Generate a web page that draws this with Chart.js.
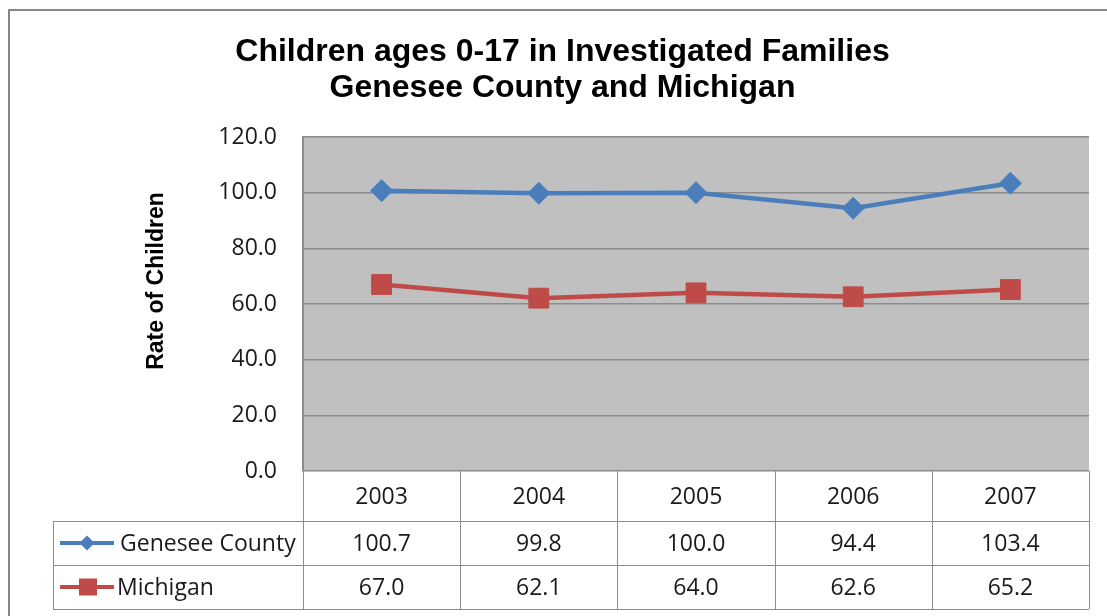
<!DOCTYPE html>
<html>
<head>
<meta charset="utf-8">
<title>Children ages 0-17 in Investigated Families</title>
<script src="https://cdn.jsdelivr.net/npm/chart.js"></script>
<style>
  html, body { margin: 0; padding: 0; background: #ffffff; }
  #wrap { position: relative; width: 1107px; height: 616px; }
</style>
</head>
<body>
<div id="wrap"><canvas id="chart"></canvas></div>
<script>
// data
const years = ['2003', '2004', '2005', '2006', '2007'];
const genesee = [100.7, 99.8, 100.0, 94.4, 103.4];
const michigan = [67.0, 62.1, 64.0, 62.6, 65.2];
const yTicks = [0, 20, 40, 60, 80, 100, 120];

const blue = '#4A7EBB';
const red = '#BE4B48';
const gridColor = '#8C8C8C';
const textFont = "'Open Sans', 'Noto Sans', sans-serif";

// outer frame + y title + data table under the plot
const tablePlugin = {
  id: 'dataTable',
  beforeDraw(chart) {
    const ctx = chart.ctx;
    ctx.save();
    ctx.strokeStyle = '#868686';
    ctx.lineWidth = 2;
    ctx.strokeRect(9, 10, 1120, 640);
    ctx.restore();
  },
  afterDraw(chart) {
    const ctx = chart.ctx;
    const area = chart.chartArea;
    const x = chart.scales.x;
    const colW = (area.right - area.left) / years.length;
    const rowTop = [area.bottom, 521, 565, 609];
    const legendLeft = 53;

    ctx.save();
    // y axis title
    ctx.translate(157, 281);
    ctx.rotate(-Math.PI / 2);
    ctx.font = "bold 23px 'Liberation Sans', Arial, sans-serif";
    ctx.fillStyle = '#000';
    ctx.textAlign = 'center';
    ctx.textBaseline = 'middle';
    ctx.fillText('Rate of Children', 0, 0);
    ctx.restore();

    ctx.save();
    ctx.strokeStyle = gridColor;
    ctx.lineWidth = 1;
    ctx.beginPath();
    // horizontal lines
    ctx.moveTo(area.left, rowTop[1] + 0.5); ctx.lineTo(area.right, rowTop[1] + 0.5);
    ctx.moveTo(legendLeft, rowTop[1] + 0.5); ctx.lineTo(area.left, rowTop[1] + 0.5);
    ctx.moveTo(legendLeft, rowTop[2] + 0.5); ctx.lineTo(area.right, rowTop[2] + 0.5);
    ctx.moveTo(legendLeft, rowTop[3] + 0.5); ctx.lineTo(area.right, rowTop[3] + 0.5);
    // vertical lines
    for (let i = 0; i <= years.length; i++) {
      const vx = Math.round(area.left + i * colW) + 0.5;
      ctx.moveTo(vx, rowTop[0]); ctx.lineTo(vx, rowTop[3]);
    }
    ctx.moveTo(legendLeft + 0.5, rowTop[1]); ctx.lineTo(legendLeft + 0.5, rowTop[3]);
    ctx.stroke();

    ctx.fillStyle = '#1a1a1a';
    ctx.font = '23px ' + textFont;
    ctx.textAlign = 'center';
    ctx.textBaseline = 'middle';
    years.forEach((y, i) => {
      const cx = x.getPixelForValue(i);
      ctx.fillText(y, cx, (rowTop[0] + rowTop[1]) / 2 + 1);
      ctx.fillText(genesee[i].toFixed(1), cx, (rowTop[1] + rowTop[2]) / 2 + 1);
      ctx.fillText(michigan[i].toFixed(1), cx, (rowTop[2] + rowTop[3]) / 2 + 1);
    });

    // legend keys
    const keys = [
      { label: 'Genesee County', color: blue, shape: 'diamond', y: (rowTop[1] + rowTop[2]) / 2, textX: 120 },
      { label: 'Michigan', color: red, shape: 'square', y: (rowTop[2] + rowTop[3]) / 2, textX: 117 }
    ];
    keys.forEach(k => {
      ctx.strokeStyle = k.color;
      ctx.fillStyle = k.color;
      ctx.lineWidth = 4;
      ctx.beginPath();
      ctx.moveTo(60, k.y); ctx.lineTo(114, k.y);
      ctx.stroke();
      ctx.beginPath();
      if (k.shape === 'diamond') {
        ctx.moveTo(87, k.y - 7.5); ctx.lineTo(94.5, k.y); ctx.lineTo(87, k.y + 7.5); ctx.lineTo(79.5, k.y);
      } else {
        ctx.rect(79, k.y - 8.5, 18, 17);
      }
      ctx.closePath();
      ctx.fill();
      ctx.fillStyle = '#1a1a1a';
      ctx.textAlign = 'left';
      ctx.fillText(k.label, k.textX, k.y + 1);
    });
    ctx.restore();
  }
};

const plotBg = {
  id: 'plotBg',
  beforeDraw(chart) {
    const a = chart.chartArea;
    const ctx = chart.ctx;
    ctx.save();
    ctx.fillStyle = '#C0C0C0';
    ctx.fillRect(a.left, a.top, a.right - a.left, a.bottom - a.top);
    ctx.restore();
  }
};

new Chart(document.getElementById('chart'), {
  type: 'line',
  data: {
    labels: years,
    datasets: [
      {
        label: 'Genesee County',
        data: genesee,
        borderColor: blue,
        backgroundColor: blue,
        borderWidth: 4.5,
        pointStyle: 'rectRot',
        pointRadius: 11,
        pointBorderWidth: 1,
        tension: 0
      },
      {
        label: 'Michigan',
        data: michigan,
        borderColor: red,
        backgroundColor: red,
        borderWidth: 4.5,
        pointStyle: 'rect',
        pointRadius: 14,
        pointBorderWidth: 1,
        tension: 0
      }
    ]
  },
  options: {
    responsive: true,
    maintainAspectRatio: false,
    animation: false,
    layout: { padding: { left: 36, right: 18, top: 34, bottom: 145 } },
    plugins: {
      legend: { display: false },
      tooltip: { enabled: false },
      title: {
        display: true,
        text: ['Children ages 0-17 in Investigated Families', 'Genesee County and Michigan'],
        color: '#000',
        font: { family: "'Liberation Sans', Arial, sans-serif", size: 32, weight: 'bold', lineHeight: 1.125 },
        padding: { top: 0, bottom: 31 }
      }
    },
    scales: {
      x: {
        offset: true,
        grid: { display: false, drawTicks: false },
        border: { display: false },
        ticks: { display: false }
      },
      y: {
        min: 0,
        max: 120,
        afterFit(scale) { scale.width = 267; },
        afterBuildTicks(scale) { scale.ticks = yTicks.map(v => ({ value: v })); },
        grid: { color: gridColor, lineWidth: 1.5, drawTicks: false },
        border: { display: true, color: gridColor, width: 2 },
        ticks: {
          padding: 26,
          color: '#1a1a1a',
          font: { family: textFont, size: 23 },
          callback: v => v.toFixed(1)
        }
      }
    }
  },
  plugins: [plotBg, tablePlugin]
});
</script>
</body>
</html>
